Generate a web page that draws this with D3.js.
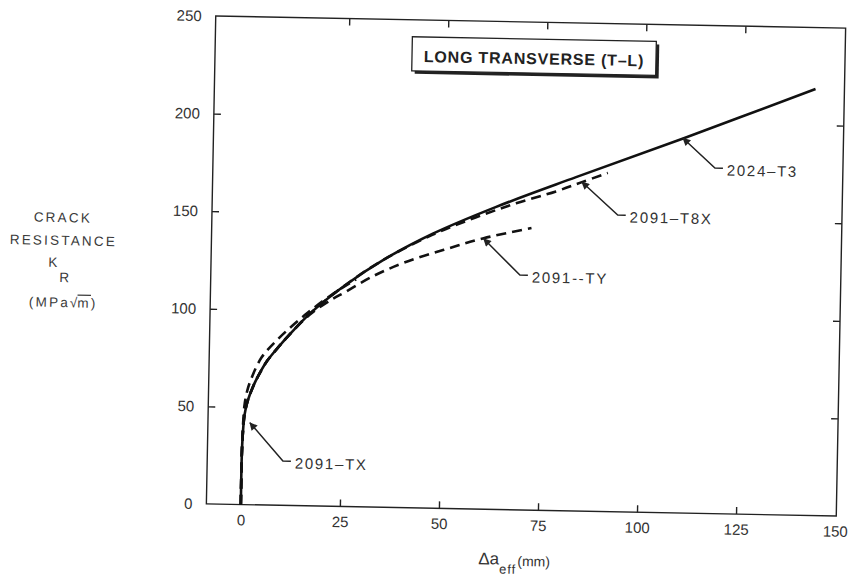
<!DOCTYPE html>
<html>
<head>
<meta charset="utf-8">
<script src="https://cdn.jsdelivr.net/npm/d3@7"></script>
<style>
  body { margin: 0; background: #fff; }
  svg { font-family: "Liberation Sans", Arial, sans-serif; }
</style>
</head>
<body>
<svg id="chart"></svg>
<script>
// crack resistance curves, long transverse (T-L)
const xLabelTicks = [0, 25, 50, 75, 100, 125, 150];
const xMarkTicks = [25, 50, 75, 100, 125];
const yLabelTicks = [0, 50, 100, 150, 200, 250];
const yMarkTicks = [50, 100, 150, 200];

// [delta a_eff (mm), K_R (MPa sqrt m)]
const t3 = [[0, 0], [0, 25], [0.15, 36], [0.5, 46], [1.2, 53], [2.5, 60.5], [4, 67], [6, 74], [8.5, 80.5],
  [11, 86.5], [16.5, 98.5], [25, 113], [35, 127], [47, 140.5], [63, 155], [83, 171], [110, 192], [143, 218.5]];
const t8x = [[0, 0], [0, 25], [0.15, 36], [0.5, 46], [1.2, 53], [2.5, 60.5], [4, 67], [6, 74], [8.5, 80.5],
  [11, 86.5], [16.5, 98.5], [25, 113], [35, 127], [47, 140], [58, 149.5], [68, 157], [78, 163.5], [84.5, 168.5], [91, 173.5]];
const ty = [[0, 0], [0, 25], [0.15, 36], [0.5, 46], [1.2, 53], [2.5, 60.5], [4, 67], [6, 74], [8.5, 80.5],
  [11, 86.5], [16.5, 98], [22, 106], [25, 109.5], [32, 118], [40, 125.5], [50, 132.5], [60, 138.8], [72, 144.5]];
const tx = [[0, 0], [0, 25], [0.15, 40], [0.5, 52], [1.2, 59.5], [2.1, 65], [3.2, 70.5], [4.5, 75.5], [6, 79.5],
  [7.8, 83.5], [11, 90], [16, 99], [22, 108.5], [28, 116.5]];

const seriesNames = ["2024\u2013T3", "2091\u2013T8X", "2091--TY", "2091\u2013TX"];
const seriesData = [t3, t8x, ty, tx];
const seriesDashed = [false, true, true, true];
// arrow tip and elbow, data units
const arrowTips = [[109.8, 192], [84.5, 168.6], [60, 138.5], [1.9, 42]];
const arrowElbows = [[118, 177], [93.7, 152], [69.3, 120.3], [10.4, 22.7]];

const width = 849;
const height = 580;
const W = 630;
const H = 488;

const x = d3.scaleLinear().domain([-8.7, 150.3]).range([0, W]);
const y = d3.scaleLinear().domain([0, 250]).range([H, 0]);

const svg = d3.select("#chart").attr("width", width).attr("height", height);

const defs = svg.append("defs");
defs.append("marker")
  .attr("id", "arrow")
  .attr("viewBox", "0 0 10 10")
  .attr("refX", 9)
  .attr("refY", 5)
  .attr("markerUnits", "userSpaceOnUse")
  .attr("markerWidth", 11)
  .attr("markerHeight", 8)
  .attr("orient", "auto")
  .append("path")
  .attr("d", "M0,0L10,5L0,10z")
  .attr("fill", "#222");

// the scan is a little tilted
const g = svg.append("g")
  .attr("transform", `translate(526,266) rotate(1.1) translate(${-W / 2},${-H / 2})`);

g.append("rect")
  .attr("width", W)
  .attr("height", H)
  .attr("fill", "none")
  .attr("stroke", "#222")
  .attr("stroke-width", 1.4);

const labelStyle = (sel) =>
  sel.call((s) => s.select(".domain").remove())
    .selectAll("text")
    .style("font-size", "15px")
    .style("fill", "#333");

g.append("g")
  .attr("transform", `translate(0,${H})`)
  .call(d3.axisBottom(x).tickValues(xLabelTicks).tickSize(0).tickPadding(10))
  .call(labelStyle);

g.append("g")
  .call(d3.axisLeft(y).tickValues(yLabelTicks).tickSize(0).tickPadding(14))
  .call(labelStyle);

const markStyle = (sel) =>
  sel.call((s) => s.select(".domain").remove())
    .call((s) => s.selectAll("line").attr("stroke", "#222").attr("stroke-width", 1.4));

g.append("g").attr("transform", `translate(0,${H})`)
  .call(d3.axisBottom(x).tickValues(xMarkTicks).tickSizeInner(-7).tickFormat(""))
  .call(markStyle);
g.append("g")
  .call(d3.axisTop(x).tickValues(xMarkTicks).tickSizeInner(-7).tickFormat(""))
  .call(markStyle);
g.append("g")
  .call(d3.axisLeft(y).tickValues(yMarkTicks).tickSizeInner(-7).tickFormat(""))
  .call(markStyle);
g.append("g").attr("transform", `translate(${W},0)`)
  .call(d3.axisRight(y).tickValues(yMarkTicks).tickSizeInner(-7).tickFormat(""))
  .call(markStyle);

// curves
const line = d3.line()
  .x((d) => x(d[0]))
  .y((d) => y(d[1]))
  .curve(d3.curveCatmullRom.alpha(0.5));

g.append("g")
  .selectAll("path")
  .data(seriesData)
  .join("path")
  .attr("d", line)
  .attr("fill", "none")
  .attr("stroke", "#111")
  .attr("stroke-width", 2.6)
  .attr("stroke-dasharray", (d, i) => (seriesDashed[i] ? "10,6" : null));

// leader arrows + labels
const ann = g.append("g")
  .selectAll("g")
  .data(seriesNames)
  .join("g");

ann.append("path")
  .attr("d", (d, i) => {
    const ex = x(arrowElbows[i][0]);
    const ey = y(arrowElbows[i][1]);
    return `M${ex + 8},${ey}L${ex},${ey}L${x(arrowTips[i][0])},${y(arrowTips[i][1])}`;
  })
  .attr("fill", "none")
  .attr("stroke", "#222")
  .attr("stroke-width", 1.5)
  .attr("marker-end", "url(#arrow)");

ann.append("text")
  .attr("x", (d, i) => x(arrowElbows[i][0]) + 12)
  .attr("y", (d, i) => y(arrowElbows[i][1]) + 2)
  .attr("dy", "0.35em")
  .style("font-size", "15px")
  .style("letter-spacing", "1.7px")
  .style("fill", "#333")
  .text((d) => d);

// title box
const box = g.append("g").attr("transform", "translate(197,17)");
box.append("rect")
  .attr("x", 3).attr("y", 3)
  .attr("width", 244).attr("height", 34)
  .attr("fill", "#222");
box.append("rect")
  .attr("width", 244).attr("height", 34)
  .attr("fill", "#fff")
  .attr("stroke", "#222")
  .attr("stroke-width", 1.3);
box.append("text")
  .attr("x", 122)
  .attr("y", 25)
  .attr("text-anchor", "middle")
  .style("font-size", "16px")
  .style("font-weight", "bold")
  .style("letter-spacing", "0.8px")
  .style("fill", "#222")
  .text("LONG TRANSVERSE (T\u2013L)");

// y title
const yt = g.append("g")
  .attr("text-anchor", "middle")
  .style("font-size", "13.5px")
  .style("letter-spacing", "2.2px")
  .style("fill", "#3a3a3a");
yt.append("text").attr("x", -149).attr("y", 209).text("CRACK");
yt.append("text").attr("x", -148).attr("y", 232).text("RESISTANCE");
const kr = yt.append("text").attr("x", -151).attr("y", 254);
kr.append("tspan").text("K");
kr.append("tspan").attr("dy", 15).text("R");
const mpa = yt.append("text").attr("x", -147).attr("y", 294);
mpa.append("tspan").text("(MPa");
mpa.append("tspan").style("letter-spacing", "0px").text("\u221A");
mpa.append("tspan").style("text-decoration", "overline").text("m");
mpa.append("tspan").text(")");

// x title
const xt = g.append("text")
  .attr("x", 273)
  .attr("y", 543)
  .style("fill", "#333");
xt.append("tspan").style("font-size", "17px").text("\u0394a");
xt.append("tspan").attr("dy", 9).style("font-size", "13px").style("letter-spacing", "1px").text("eff");
xt.append("tspan").attr("dy", -8).attr("dx", 1).style("font-size", "14px").text("(mm)");
</script>
</body>
</html>
